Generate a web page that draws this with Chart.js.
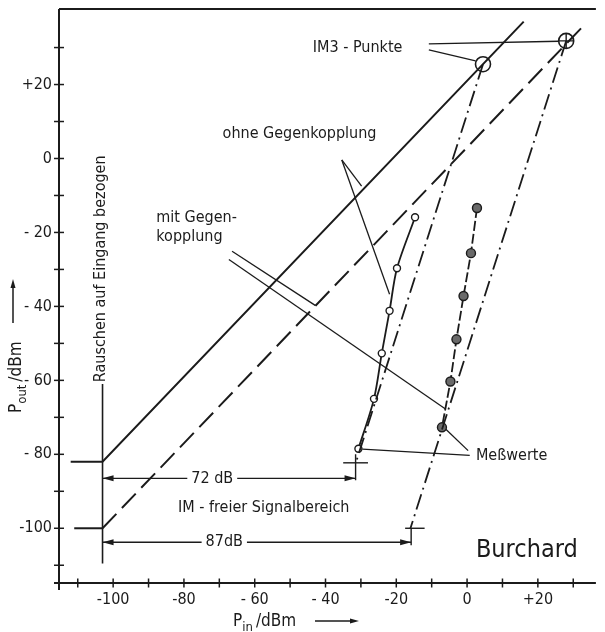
<!DOCTYPE html>
<html lang="de">
<head>
<meta charset="UTF-8" />
<title>IM3-Punkte mit und ohne Gegenkopplung</title>
<script src="https://cdn.jsdelivr.net/npm/chart.js"></script>
<style>
  body { margin: 0; background: #fff; }
  canvas { display: block; }
</style>
</head>
<body>
<canvas id="plot" width="605" height="632"></canvas>
<script>
const FONT = "'DejaVu Sans Condensed', 'Liberation Sans Narrow', 'DejaVu Sans', sans-serif";
const INK = '#1b1b1b';

// axis ticks
const xTicks = [-100, -80, -60, -40, -20, 0, 20];
const xTickLabels = ['-100', '-80', '- 60', '- 40', '-20', '0', '+20'];
const yTicks = [20, 0, -20, -40, -60, -80, -100];
const yTickLabels = ['+20', '0', '- 20', '- 40', '- 60', '- 80', '-100'];
const minorTicks = [-110, -100, -90, -80, -70, -60, -50, -40, -30, -20, -10, 0, 10, 20, 30];

// Messwerte (Pin, Pout in dBm)
const openIn = [-14.7, -19.8, -21.9, -24.1, -26.3, -30.7];
const openOut = [-15.9, -29.7, -41.2, -52.7, -65.0, -78.5];
const filledIn = [2.8, 1.1, -1.0, -3.0, -4.7, -7.1];
const filledOut = [-13.4, -25.6, -37.2, -48.9, -60.3, -72.7];

// IM3-Punkte
const im3OhneIn = [4.5], im3OhneOut = [25.5];
const im3MitIn = [28], im3MitOut = [31.8];

// Nutzsignal-Geraden
const fundOhneIn = [-112, -103, 16];
const fundOhneOut = [-82, -82, 37];
const stubMitIn = [-111, -103];
const stubMitOut = [-100, -100];
const fundMitIn = [-103, 33.6];
const fundMitOut = [-100, 36.6];

// IM3-Geraden
const im3LineOhneIn = [4.5, -31.5];
const im3LineOhneOut = [25.5, -82.5];
const im3LineMitIn = [28, -16];
const im3LineMitOut = [31.8, -100];

// Rauschen, Bereichsmarken
const noiseIn = [-103, -103];
const noiseOut = [-61, -109.5];
const range72In = [-103, -31.5], range72Out = [-86.5, -86.5];
const range87In = [-103, -15.8], range87Out = [-103.8, -103.8];
const markAhIn = [-35, -28], markAhOut = [-82.3, -82.3];
const markAvIn = [-31.5, -31.5], markAvOut = [-80, -87];
const markBhIn = [-17.5, -12], markBhOut = [-100, -100];
const markBvIn = [-15.8, -15.8], markBvOut = [-100, -104.6];

// Hinweislinien
const leaders = [
  [[-10.8, 31.0], [26.0, 31.7]],
  [[-10.8, 29.4], [2.4, 26.4]],
  [[-35.4, -0.4], [-29.8, -7.5]],
  [[-35.4, -0.4], [-21.9, -36.7]],
  [[-66.4, -25.1], [-42.8, -39.8]],
  [[-67.3, -27.3], [-6.2, -67.7]],
  [[0.75, -80.3], [-29.6, -78.6]],
  [[0.3, -79.0], [-6.0, -73.2]]
];

const pts = (xs, ys) => xs.map((x, i) => ({ x, y: ys[i] }));

function lineSet(xs, ys, extra) {
  return Object.assign({
    data: pts(xs, ys),
    showLine: true,
    borderColor: INK,
    borderWidth: 2,
    pointRadius: 0,
    fill: false
  }, extra || {});
}

const datasets = [
  lineSet(fundOhneIn, fundOhneOut),
  lineSet(stubMitIn, stubMitOut),
  lineSet(fundMitIn, fundMitOut, { borderDash: [20, 8] }),
  lineSet(im3LineOhneIn, im3LineOhneOut, { borderDash: [16, 5, 2, 5], borderWidth: 1.8 }),
  lineSet(im3LineMitIn, im3LineMitOut, { borderDash: [16, 5, 2, 5], borderWidth: 1.8 }),
  lineSet(noiseIn, noiseOut, { borderWidth: 1.6 }),
  lineSet(range72In, range72Out, { borderWidth: 1.4, arrowEnds: true }),
  lineSet(range87In, range87Out, { borderWidth: 1.4, arrowEnds: true }),
  lineSet(markAhIn, markAhOut, { borderWidth: 1.4 }),
  lineSet(markAvIn, markAvOut, { borderWidth: 1.4 }),
  lineSet(markBhIn, markBhOut, { borderWidth: 1.4 }),
  lineSet(markBvIn, markBvOut, { borderWidth: 1.4 }),
  ...leaders.map(l => lineSet(l.map(p => p[0]), l.map(p => p[1]), { borderWidth: 1.3 })),
  // Messkurven
  lineSet(openIn, openOut, {
    borderWidth: 1.8, tension: 0.3,
    pointRadius: 3.5, pointStyle: 'circle',
    pointBackgroundColor: '#fff', pointBorderColor: INK, pointBorderWidth: 1.4
  }),
  lineSet(filledIn, filledOut, {
    borderWidth: 1.8, borderDash: [10, 3],
    pointRadius: 4.5, pointStyle: 'circle',
    pointBackgroundColor: '#6a6a6a', pointBorderColor: INK, pointBorderWidth: 1.4
  }),
  {
    data: pts(filledIn, filledOut), showLine: false,
    pointStyle: 'cross', pointRadius: 4.5, pointBorderColor: '#ddd', pointBorderWidth: 1
  },
  // IM3-Punkte
  {
    data: pts(im3OhneIn, im3OhneOut), showLine: false,
    pointStyle: 'circle', pointRadius: 7.5,
    pointBackgroundColor: 'rgba(0,0,0,0)', pointBorderColor: INK, pointBorderWidth: 1.6
  },
  {
    data: pts(im3MitIn, im3MitOut), showLine: false,
    pointStyle: 'circle', pointRadius: 7.5,
    pointBackgroundColor: 'rgba(0,0,0,0)', pointBorderColor: INK, pointBorderWidth: 1.6
  },
  {
    data: pts(im3MitIn, im3MitOut), showLine: false,
    pointStyle: 'cross', pointRadius: 7.5, pointBorderColor: INK, pointBorderWidth: 1.4
  }
];

// Beschriftungen im Diagramm (Lage in dBm-Koordinaten)
const notes = [
  { text: 'IM3 - Punkte', x: -43.6, y: 29.8, align: 'left' },
  { text: 'ohne Gegenkopplung', x: -25.6, y: 6.7, align: 'right' },
  { text: 'mit Gegen-', x: -87.8, y: -16.1, align: 'left' },
  { text: 'kopplung', x: -87.8, y: -21.3, align: 'left' },
  { text: 'Meßwerte', x: 2.5, y: -80.3, align: 'left' },
  { text: 'IM - freier Signalbereich', x: -81.7, y: -94.6, align: 'left' },
  { text: '72 dB', x: -72, y: -86.5, align: 'center', box: true },
  { text: '87dB', x: -68.6, y: -103.8, align: 'center', box: true },
  { text: 'Burchard', x: 2.5, y: -105.9, align: 'left', size: 25 },
  { text: 'Rauschen auf Eingang bezogen', x: -103.4, y: -60.5, align: 'left', rotate: true }
];

function seg(ctx, x1, y1, x2, y2) {
  ctx.beginPath();
  ctx.moveTo(x1, y1);
  ctx.lineTo(x2, y2);
  ctx.stroke();
}

function arrowHead(ctx, tx, ty, fx, fy, len, half) {
  const a = Math.atan2(ty - fy, tx - fx);
  const c = Math.cos(a), s = Math.sin(a);
  ctx.beginPath();
  ctx.moveTo(tx, ty);
  ctx.lineTo(tx - len * c - half * s, ty - len * s + half * c);
  ctx.lineTo(tx - len * c + half * s, ty - len * s - half * c);
  ctx.closePath();
  ctx.fill();
}

function subText(ctx, x, y, main, sub, rest, size) {
  ctx.textAlign = 'left';
  ctx.textBaseline = 'alphabetic';
  ctx.font = size + 'px ' + FONT;
  ctx.fillText(main, x, y);
  let w = ctx.measureText(main).width;
  ctx.font = Math.round(size * 0.78) + 'px ' + FONT;
  ctx.fillText(sub, x + w, y + 5);
  w += ctx.measureText(sub).width;
  ctx.font = size + 'px ' + FONT;
  ctx.fillText(rest, x + w + 3, y);
}

const drawing = {
  id: 'drawing',
  beforeDraw(chart) {
    const ctx = chart.ctx;
    ctx.save();
    ctx.fillStyle = '#fff';
    ctx.fillRect(0, 0, chart.width, chart.height);
    ctx.restore();
  },
  beforeDatasetsDraw(chart) {
    const { ctx, chartArea: a, scales: { x, y } } = chart;
    ctx.save();
    ctx.strokeStyle = INK;
    ctx.lineWidth = 2;
    seg(ctx, a.left, a.top, a.left, a.bottom + 7);
    seg(ctx, a.left - 5, a.bottom, a.right, a.bottom);
    seg(ctx, a.left, a.top, a.right, a.top);
    ctx.lineWidth = 1.5;
    minorTicks.forEach(v => {
      const px = x.getPixelForValue(v);
      const py = y.getPixelForValue(v);
      seg(ctx, px, a.bottom - 4.5, px, a.bottom + 4.5);
      seg(ctx, a.left - 5, py, a.left + 5, py);
    });
    ctx.restore();
  },
  afterDatasetsDraw(chart) {
    const { ctx, chartArea: a, scales: { x, y } } = chart;
    ctx.save();
    ctx.fillStyle = INK;
    ctx.strokeStyle = INK;

    // Pfeilspitzen der Bereichsmarken
    chart.data.datasets.forEach((ds, i) => {
      if (!ds.arrowEnds) return;
      const d = chart.getDatasetMeta(i).data;
      const p0 = d[0], p1 = d[d.length - 1];
      arrowHead(ctx, p0.x, p0.y, p1.x, p1.y, 11, 3);
      arrowHead(ctx, p1.x, p1.y, p0.x, p0.y, 11, 3);
    });

    // Achsbeschriftung
    ctx.font = '16px ' + FONT;
    ctx.textAlign = 'center';
    ctx.textBaseline = 'top';
    xTicks.forEach((v, i) => ctx.fillText(xTickLabels[i], x.getPixelForValue(v), a.bottom + 9));
    ctx.textAlign = 'right';
    ctx.textBaseline = 'middle';
    yTicks.forEach((v, i) => ctx.fillText(yTickLabels[i], a.left - 7, y.getPixelForValue(v)));

    // Achstitel
    subText(ctx, 233, 626, 'P', 'in', '/dBm', 17);
    ctx.lineWidth = 1.5;
    seg(ctx, 315, 621, 352, 621);
    arrowHead(ctx, 359, 621, 315, 621, 9, 2.5);

    ctx.save();
    ctx.translate(21, 413);
    ctx.rotate(-Math.PI / 2);
    subText(ctx, 0, 0, 'P', 'out', '/dBm', 17);
    ctx.restore();
    seg(ctx, 13, 323, 13, 288);
    arrowHead(ctx, 13, 279, 13, 323, 9, 2.5);

    // Texte im Diagramm
    notes.forEach(n => {
      const px = x.getPixelForValue(n.x);
      const py = y.getPixelForValue(n.y);
      ctx.font = (n.size || 16) + 'px ' + FONT;
      ctx.textAlign = n.align;
      ctx.textBaseline = 'middle';
      if (n.rotate) {
        ctx.save();
        ctx.translate(px, py);
        ctx.rotate(-Math.PI / 2);
        ctx.fillText(n.text, 0, 0);
        ctx.restore();
        return;
      }
      if (n.box) {
        const w = ctx.measureText(n.text).width;
        ctx.fillStyle = '#fff';
        ctx.fillRect(px - w / 2 - 4, py - 8, w + 8, 16);
        ctx.fillStyle = INK;
      }
      ctx.fillText(n.text, px, py);
    });
    ctx.restore();
  }
};

new Chart(document.getElementById('plot'), {
  type: 'scatter',
  data: { datasets },
  options: {
    responsive: false,
    animation: false,
    layout: { padding: { left: 59, right: 0, top: 7, bottom: 49 } },
    scales: {
      x: { type: 'linear', min: -115.3, max: 36.4, display: false },
      y: { type: 'linear', min: -114.8, max: 40.4, display: false }
    },
    plugins: {
      legend: { display: false },
      tooltip: { enabled: false }
    }
  },
  plugins: [drawing]
});
</script>
</body>
</html>
